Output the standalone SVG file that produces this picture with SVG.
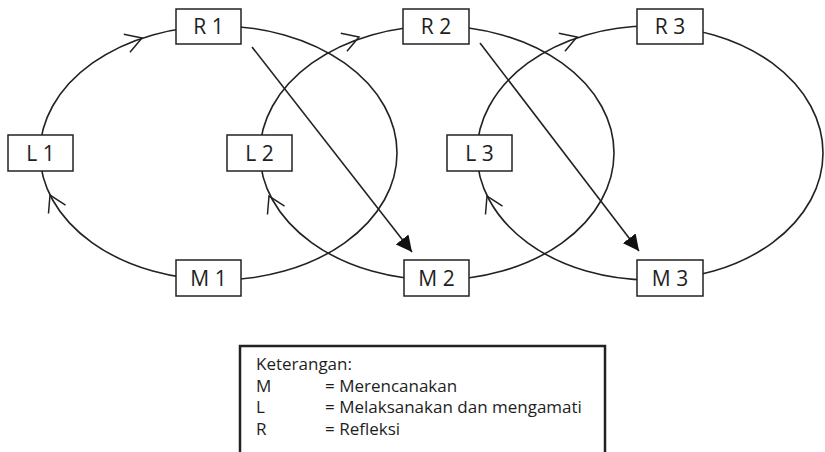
<svg xmlns="http://www.w3.org/2000/svg" xmlns:xlink="http://www.w3.org/1999/xlink" width="825" height="452" viewBox="0 0 825 452">
  <style>
    .cycle { fill: none; stroke: #222; stroke-width: 1.6; }
    .jump { fill: none; stroke: #222; stroke-width: 1.6; marker-end: url(#solidHead); }
    .chev { fill: none; stroke: #222; stroke-width: 1.5; }
    .box { fill: #fff; stroke: #222; stroke-width: 1.5; }
    .lbl { font-family: "Open Sans", "Noto Sans", "Liberation Sans", sans-serif; font-size: 21px; fill: #1e1e1e; text-anchor: middle; }
    .legend-frame { fill: #fff; stroke: #222; stroke-width: 2.5; }
    .legend { font-family: "Open Sans", "Noto Sans", "Liberation Sans", sans-serif; font-size: 17px; fill: #1e1e1e; }
  </style>
  <defs>
    <!-- open chevron drawn along a cycle, tip at origin pointing +x -->
    <path id="chev" class="chev" d="M-16,-9.5 L0,0 L-16,9.5"/>
    <marker id="solidHead" markerUnits="userSpaceOnUse" markerWidth="17" markerHeight="16" refX="16" refY="8" orient="auto">
      <path d="M0,0 L16,8 L0,16 z" fill="#111"/>
    </marker>
  </defs>

  <g id="connectors">
    <!-- three cycles -->
    <ellipse class="cycle" cx="218.5" cy="153" rx="178.5" ry="127"/>
    <ellipse class="cycle" cx="437" cy="153" rx="177" ry="127"/>
    <ellipse class="cycle" cx="650" cy="153" rx="173" ry="127"/>
    <!-- direction marks on each cycle -->
    <use xlink:href="#chev" href="#chev" transform="translate(142,38) rotate(-19)"/>
    <use xlink:href="#chev" href="#chev" transform="translate(50,195) rotate(-116)"/>
    <use xlink:href="#chev" href="#chev" transform="translate(359,37) rotate(-19)"/>
    <use xlink:href="#chev" href="#chev" transform="translate(269,196) rotate(-116)"/>
    <use xlink:href="#chev" href="#chev" transform="translate(577,37) rotate(-19)"/>
    <use xlink:href="#chev" href="#chev" transform="translate(487,196) rotate(-116)"/>
    <!-- reflection leads to next planning -->
    <line class="jump" x1="252" y1="47" x2="412" y2="252"/>
    <line class="jump" x1="480" y1="43" x2="639" y2="251"/>
  </g>

  <g id="R1"><rect class="box" x="176" y="9" width="65" height="35"/><text class="lbl" x="208.5" y="34">R 1</text></g>
  <g id="L1"><rect class="box" x="8" y="135" width="65" height="36"/><text class="lbl" x="40.5" y="160.5">L 1</text></g>
  <g id="M1"><rect class="box" x="176" y="260" width="65" height="36"/><text class="lbl" x="208.5" y="285.5">M 1</text></g>

  <g id="R2"><rect class="box" x="403" y="9" width="66" height="35"/><text class="lbl" x="436" y="34">R 2</text></g>
  <g id="L2"><rect class="box" x="227" y="135" width="65" height="36"/><text class="lbl" x="259.5" y="160.5">L 2</text></g>
  <g id="M2"><rect class="box" x="404" y="260" width="65" height="36"/><text class="lbl" x="436.5" y="285.5">M 2</text></g>

  <g id="R3"><rect class="box" x="637" y="9" width="66" height="35"/><text class="lbl" x="670" y="34">R 3</text></g>
  <g id="L3"><rect class="box" x="447" y="135" width="65" height="36"/><text class="lbl" x="479.5" y="160.5">L 3</text></g>
  <g id="M3"><rect class="box" x="637" y="260" width="66" height="36"/><text class="lbl" x="670" y="285.5">M 3</text></g>

  <g id="legend">
    <rect class="legend-frame" x="240" y="346" width="365" height="130"/>
    <text class="legend" x="256" y="370">Keterangan:</text>
    <text class="legend" x="256" y="391.5">M</text>
    <text class="legend" x="325" y="391.5">= Merencanakan</text>
    <text class="legend" x="256" y="413">L</text>
    <text class="legend" x="325" y="413">= Melaksanakan dan mengamati</text>
    <text class="legend" x="256" y="435">R</text>
    <text class="legend" x="325" y="435">= Refleksi</text>
  </g>
</svg>
